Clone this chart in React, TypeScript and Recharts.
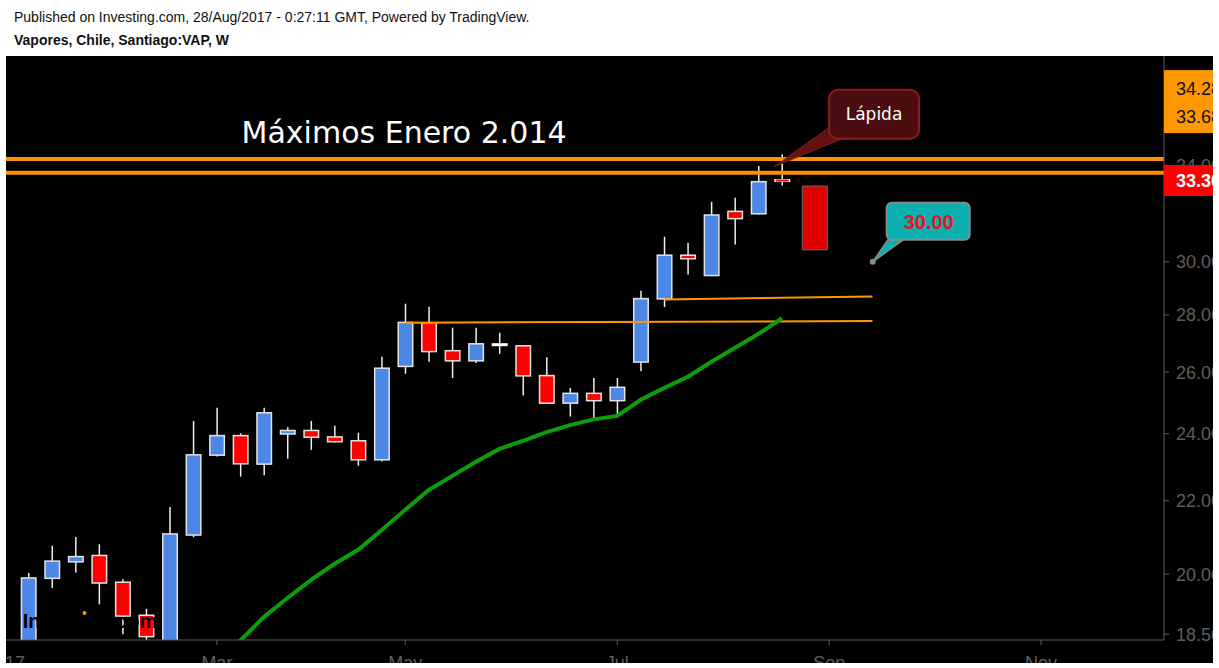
import React from 'react';
import {
  ComposedChart,
  Bar,
  Line,
  XAxis,
  YAxis,
  ReferenceLine,
  ReferenceArea,
  ReferenceDot,
} from 'recharts';

// ---- data (weekly bars, index 0 = first visible week of 2017) ----
const barIndex = [
  0, 1, 2, 3, 4, 5, 6, 7, 8, 9, 10, 11, 12, 13, 14, 15, 16, 17, 18, 19, 20,
  21, 22, 23, 24, 25, 26, 27, 28, 29, 30, 31, 32,
];
const opens = [
  18.2, 19.89, 20.32, 20.49, 19.79, 18.96, 18.2, 21.04, 23.34, 23.94, 23.07,
  23.99, 24.1, 23.9, 23.78, 23.2, 26.19, 27.72, 26.73, 26.38, 26.94, 26.9,
  25.88, 24.97, 25.29, 25.05, 26.34, 28.59, 30.26, 29.47, 32.03, 31.93, 33.36,
];
const highs = [
  20.03, 20.75, 20.99, 20.79, 19.87, 19.12, 21.82, 24.4, 24.82, 24.01, 24.82,
  24.2, 24.4, 24.25, 24.03, 26.52, 28.41, 28.3, 27.54, 27.54, 27.36, 26.92,
  26.5, 25.47, 25.8, 25.8, 28.89, 30.99, 30.75, 32.43, 32.6, 33.98, 34.5,
];
const lows = [
  18.0, 19.64, 20.04, 19.23, 18.5, 18.3, 18.0, 20.98, 23.3, 22.7, 22.74,
  23.23, 23.5, 23.73, 23.02, 23.15, 25.94, 26.35, 25.8, 26.31, 26.62, 25.22,
  24.94, 24.54, 24.43, 24.55, 26.03, 28.29, 29.51, 29.45, 30.68, 31.9, 33.12,
];
const closes = [
  19.9, 20.34, 20.46, 19.77, 18.94, 18.44, 21.07, 23.35, 23.94, 23.08, 24.66,
  24.1, 23.89, 23.75, 23.2, 26.13, 27.73, 26.7, 26.38, 26.97, 26.94, 25.87,
  24.97, 25.29, 25.05, 25.49, 28.6, 30.26, 30.12, 31.88, 31.73, 33.29, 33.3,
];
const movingAvg = [
  null, null, null, null, null, null, null, null, 17.8, 18.35, 18.92, 19.39,
  19.85, 20.27, 20.64, 21.18, 21.74, 22.31, 22.72, 23.14, 23.53, 23.78, 24.05,
  24.27, 24.45, 24.56, 25.08, 25.47, 25.84, 26.35, 26.83, 27.32, 27.88,
];

const monthTicks = [-1, 8, 16, 25, 34, 43];
const monthLabels = ['2017', 'Mar', 'May', 'Jul', 'Sep', 'Nov'];
const priceTicks = [18.5, 20, 22, 24, 26, 28, 30, 34];
const resistanceLevels = [34.28, 33.68];
const lastPrice = 33.3;
const lowerTrend = [
  { x: 16, y: 27.72 },
  { x: 35.84, y: 27.78 },
];
const upperTrend = [
  { x: 27, y: 28.57 },
  { x: 35.84, y: 28.68 },
];
const projectionBox = { x1: 32.86, x2: 33.92, y1: 30.47, y2: 33.1 };
const titleNote = { x: 9.05, y: 35.0, text: 'Máximos Enero 2.014' };
const lapidaNote = { x: 31.66, y: 33.94, text: 'Lápida' };
const targetNote = { x: 35.85, y: 30.0, text: '30.00' };

const data = barIndex.map((i, k) => ({
  i,
  open: opens[k],
  high: highs[k],
  low: lows[k],
  close: closes[k],
  range: [lows[k], highs[k]],
  ma: movingAvg[k],
}));

const AXIS_FONT = '"Liberation Sans", Arial, sans-serif';
const AXIS_GREY = '#5e5e5e';
const AXIS_SIZE = 18;

const Candle = (props: any) => {
  const { x, y, width, height, payload } = props;
  if (!payload || x == null || y == null) return null;
  const top0 = Math.min(y, y + height);
  const h0 = Math.abs(height);
  const { open, close, high, low } = payload;
  const lh = Math.log(high);
  const ll = Math.log(low);
  const py = (p: number) => top0 + ((lh - Math.log(p)) / (lh - ll)) * h0;
  const cx = x + width / 2;
  const doji = Math.abs(close - open) < 0.005;
  const up = close > open;
  const top = py(Math.max(open, close));
  const bot = py(Math.min(open, close));
  const bh = bot - top;
  const fill = up ? '#4d87e6' : '#ff0000';
  let body;
  if (doji) {
    body = <rect x={cx - 8} y={top - 1.5} width={16} height={3} fill="#ffffff" />;
  } else if (bh < 3) {
    body = (
      <g>
        <rect x={cx - 8} y={top - 1} width={16} height={3} fill="#ffffff" />
        <rect x={cx - 6.5} y={top - 0.5} width={13} height={2} fill={fill} />
      </g>
    );
  } else {
    body = (
      <rect
        x={cx - 7.25}
        y={top}
        width={14.5}
        height={bh}
        fill={fill}
        stroke="#e4e4e4"
        strokeWidth={1.5}
      />
    );
  }
  return (
    <g>
      <line x1={cx} x2={cx} y1={top0} y2={top0 + h0} stroke="#f0f0f0" strokeWidth={1.5} />
      {body}
    </g>
  );
};

const YTick = (props: any) => {
  const { x, y, payload } = props;
  const v = payload.value;
  const ax = x - 12;
  if (v === lastPrice) {
    return (
      <g>
        <rect x={ax} y={y - 16.5} width={80} height={31} fill="#ff0000" />
        <text x={x} y={y + 6} fill="#ffffff" fontWeight="bold" fontFamily={AXIS_FONT} fontSize={AXIS_SIZE}>
          {v.toFixed(2)}
        </text>
      </g>
    );
  }
  if (v === resistanceLevels[0]) {
    return (
      <g>
        <rect x={ax} y={y - 89} width={80} height={63} fill="#ff9800" />
        <text x={x} y={y - 64} fill="#111" fontFamily={AXIS_FONT} fontSize={AXIS_SIZE}>
          {v.toFixed(2)}
        </text>
      </g>
    );
  }
  if (v === resistanceLevels[1]) {
    return (
      <text x={x} y={y - 50} fill="#111" fontFamily={AXIS_FONT} fontSize={AXIS_SIZE}>
        {v.toFixed(2)}
      </text>
    );
  }
  return (
    <g>
      <line x1={ax} x2={ax + 5} y1={y} y2={y} stroke={AXIS_GREY} strokeWidth={1} />
      <text x={x} y={y + 6.5} fill={AXIS_GREY} fontFamily={AXIS_FONT} fontSize={AXIS_SIZE}>
        {v.toFixed(2)}
      </text>
    </g>
  );
};

const XTick = (props: any) => {
  const { x, y, payload } = props;
  const idx = monthTicks.indexOf(payload.value);
  return (
    <g>
      <line x1={x} x2={x} y1={y - 8} y2={y - 3} stroke={AXIS_GREY} strokeWidth={1} />
      <text x={x} y={y + 21} textAnchor="middle" fill={AXIS_GREY} fontFamily={AXIS_FONT} fontSize={AXIS_SIZE}>
        {monthLabels[idx]}
      </text>
    </g>
  );
};

const TitleShape = (props: any) => {
  const { cx, cy } = props;
  return (
    <text x={cx} y={cy} fill="#ffffff" fontFamily='"DejaVu Sans", Verdana, sans-serif' fontSize={30}>
      {titleNote.text}
    </text>
  );
};

const LapidaShape = (props: any) => {
  const { cx, cy } = props;
  return (
    <g>
      <polygon
        points={`${cx + 56},${cy - 40} ${cx + 68},${cy - 28} ${cx},${cy}`}
        fill="#6a1212"
        stroke="#8e1c1c"
        strokeWidth={1}
        opacity={0.95}
      />
      <rect x={cx + 55} y={cy - 77} width={90} height={49} rx={9} fill="#4b0d10" stroke="#8e1c1c" strokeWidth={2} />
      <text x={cx + 100} y={cy - 47} textAnchor="middle" fill="#ffffff" fontFamily='"DejaVu Sans", Verdana, sans-serif' fontSize={17}>
        {lapidaNote.text}
      </text>
    </g>
  );
};

const TargetShape = (props: any) => {
  const { cx, cy } = props;
  return (
    <g>
      <polygon
        points={`${cx + 16},${cy - 23} ${cx + 32},${cy - 23} ${cx},${cy}`}
        fill="#0ab0b0"
        stroke="#8a8a8a"
        strokeWidth={1.5}
      />
      <rect x={cx + 14} y={cy - 59} width={83} height={37} rx={5} fill="#0ab0b0" stroke="#8a8a8a" strokeWidth={2} />
      <text x={cx + 56} y={cy - 33} textAnchor="middle" fill="#e8141e" fontWeight="bold" fontFamily={AXIS_FONT} fontSize={20}>
        {targetNote.text}
      </text>
      <circle cx={cx} cy={cy} r={3} fill="#8a8a8a" />
    </g>
  );
};

export default function App() {
  return (
    <div
      style={{
        position: 'absolute',
        left: 0,
        top: 0,
        width: 1219,
        height: 668,
        background: '#ffffff',
        overflow: 'hidden',
      }}
    >
      <div
        style={{
          position: 'absolute',
          left: 14,
          top: 9,
          font: '14px "Liberation Sans", Arial, sans-serif',
          lineHeight: '16px',
          color: '#111',
          whiteSpace: 'nowrap',
        }}
      >
        Published on Investing.com, 28/Aug/2017 - 0:27:11 GMT, Powered by TradingView.
      </div>
      <div
        style={{
          position: 'absolute',
          left: 14,
          top: 32,
          font: 'bold 14px "Liberation Sans", Arial, sans-serif',
          lineHeight: '16px',
          color: '#111',
          whiteSpace: 'nowrap',
        }}
      >
        Vapores, Chile, Santiago:VAP, W
      </div>
      <div
        style={{
          position: 'absolute',
          left: 6,
          top: 56,
          width: 1207,
          height: 607,
          background: '#000000',
          overflow: 'hidden',
        }}
      >
        <div style={{ position: 'absolute', left: -38, top: 0 }}>
          <ComposedChart
            width={1276}
            height={624}
            data={data}
            margin={{ top: 0, right: 0, bottom: 0, left: 0 }}
          >
            <XAxis
              dataKey="i"
              type="number"
              domain={[-2.569, 48.22]}
              allowDataOverflow
              ticks={monthTicks}
              interval={0}
              tick={<XTick />}
              tickLine={false}
              tickSize={5}
              tickMargin={3}
              axisLine={{ stroke: AXIS_GREY, strokeWidth: 1 }}
              height={40}
            />
            <YAxis
              orientation="right"
              scale="log"
              domain={[18.36, 39.19]}
              allowDataOverflow
              ticks={[...priceTicks, ...resistanceLevels, lastPrice]}
              interval={0}
              tick={<YTick />}
              tickLine={false}
              tickSize={6}
              tickMargin={6}
              axisLine={{ stroke: AXIS_GREY, strokeWidth: 1 }}
              width={80}
            />
            <ReferenceLine segment={lowerTrend} stroke="#ff9800" strokeWidth={2} />
            <ReferenceLine segment={upperTrend} stroke="#ff9800" strokeWidth={2} />
            {resistanceLevels.map((lv) => (
              <ReferenceLine key={lv} y={lv} stroke="#ff9000" strokeWidth={4} />
            ))}
            <ReferenceArea
              x1={projectionBox.x1}
              x2={projectionBox.x2}
              y1={projectionBox.y1}
              y2={projectionBox.y2}
              fill="#e00000"
              fillOpacity={1}
              stroke="#6a6a6a"
              strokeWidth={1}
            />
            <Line
              dataKey="ma"
              type="linear"
              stroke="#0b9e0b"
              strokeWidth={4}
              dot={false}
              isAnimationActive={false}
            />
            <Bar dataKey="range" barSize={16} shape={<Candle />} isAnimationActive={false} />
            <ReferenceDot x={titleNote.x} y={titleNote.y} r={1} shape={<TitleShape />} />
            <ReferenceDot x={lapidaNote.x} y={lapidaNote.y} r={1} shape={<LapidaShape />} />
            <ReferenceDot x={targetNote.x} y={targetNote.y} r={1} shape={<TargetShape />} />
          </ComposedChart>
        </div>
        <svg
          width={1207}
          height={607}
          style={{ position: 'absolute', left: 0, top: 0, pointerEvents: 'none' }}
        >
          <text x={16.7} y={572} fill="#000000" fontWeight="bold" fontFamily={AXIS_FONT} fontSize={20}>
            Investing.com
          </text>
          <circle cx={78.5} cy={557} r={2} fill="#f7931e" />
        </svg>
      </div>
    </div>
  );
}
